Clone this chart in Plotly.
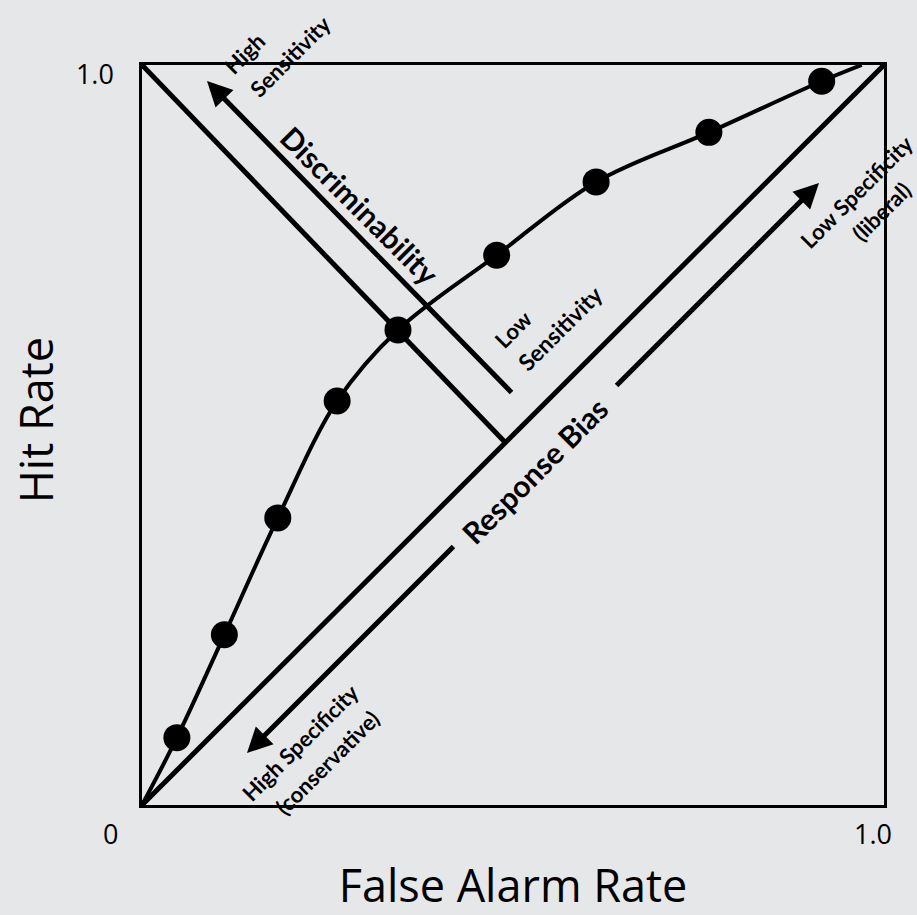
import plotly.graph_objects as go

# ROC points (false alarm rate, hit rate)
fa_rate = [0.047, 0.111, 0.183, 0.263, 0.345, 0.478, 0.612, 0.764, 0.916]
hit_rate = [0.091, 0.230, 0.388, 0.546, 0.642, 0.743, 0.842, 0.909, 0.978]
# curve end points
curve_start = [0.0, 0.0]
curve_end = [0.97, 1.0]

# reference lines
chance_x = [0.0, 1.0]
chance_y = [0.0, 1.0]
anti_x = [0.0, 0.489]
anti_y = [1.0, 0.4905]

# arrows: (tip_x, tip_y, tail_x, tail_y)
disc_arrow = [0.0876, 0.9784, 0.500, 0.5554]
bias_low_arrow = [0.1415, 0.0703, 0.4218, 0.3514]
bias_high_arrow = [0.9124, 0.8405, 0.6375, 0.5649]

BG = "#e6e7e9"
LABEL_FONT = "Lato"
AXIS_FONT = "Open Sans"

fig = go.Figure()

fig.add_trace(go.Scatter(x=chance_x, y=chance_y, mode="lines",
                         line=dict(color="black", width=5), cliponaxis=False,
                         hoverinfo="skip"))
fig.add_trace(go.Scatter(x=anti_x, y=anti_y, mode="lines",
                         line=dict(color="black", width=5), cliponaxis=False,
                         hoverinfo="skip"))
fig.add_trace(go.Scatter(x=[curve_start[0]] + fa_rate + [curve_end[0]],
                         y=[curve_start[1]] + hit_rate + [curve_end[1]],
                         mode="lines", line=dict(color="black", width=4, shape="spline", smoothing=1.0),
                         cliponaxis=False, hoverinfo="skip"))
fig.add_trace(go.Scatter(x=fa_rate, y=hit_rate, mode="markers",
                         marker=dict(color="black", size=27), cliponaxis=False))

def arrow(a):
    fig.add_annotation(x=a[0], y=a[1], ax=a[2], ay=a[3], xref="x", yref="y",
                       axref="x", ayref="y", text="", showarrow=True,
                       arrowhead=2, arrowwidth=5, arrowsize=1.0, arrowcolor="black",
                       standoff=0, startstandoff=0)

arrow(disc_arrow)
arrow(bias_low_arrow)
arrow(bias_high_arrow)

# text labels: (text, x, y, size, angle)
labels = [
    ("High", 0.1375, 1.016, 22, -45),
    ("Sensitivity", 0.1995, 1.011, 22, -45),
    ("Discriminability", 0.2938, 0.811, 30, 45),
    ("Low", 0.500, 0.642, 22, -45),
    ("Sensitivity", 0.5633, 0.6446, 23, -45),
    ("Response Bias", 0.5296, 0.4527, 30, -45),
    ("Low Specificity", 0.9636, 0.8284, 22, -45),
    ("(liberal)", 0.996, 0.8027, 22, -45),
    ("High Specificity", 0.2129, 0.0851, 22, -45),
    ("(conservative)", 0.2493, 0.0581, 22, -45),
]
for t, x, y, s, ang in labels:
    fig.add_annotation(x=x, y=y, xref="paper", yref="paper", text="<b>" + t + "</b>",
                       showarrow=False, textangle=ang, xanchor="center", yanchor="middle",
                       font=dict(family=LABEL_FONT, size=s, color="black"))

fig.add_annotation(x=0, y=0, xref="paper", yref="paper", text="0", showarrow=False,
                   xanchor="center", yanchor="middle",
                   xshift=-32, yshift=-28,
                   font=dict(family=AXIS_FONT, size=27, color="black"))

# y axis title placed as annotation so it sits slightly above centre
fig.add_annotation(x=-0.144, y=0.52, xref="paper", yref="paper", text="Hit Rate",
                   showarrow=False, textangle=-90, xanchor="center", yanchor="middle",
                   font=dict(family=AXIS_FONT, size=45, color="black"))

fig.update_layout(
    width=917, height=915,
    paper_bgcolor=BG, plot_bgcolor=BG,
    margin=dict(l=142, r=33, t=65, b=110),
    showlegend=False,
    xaxis=dict(range=[0, 1], tickvals=[1], ticktext=["1.0"], showgrid=False,
               zeroline=False, showline=True, linecolor="black", linewidth=2.5,
               mirror=True, ticks="", ticklabelshift=-11, ticklabelstandoff=4,
               automargin=False,
               tickfont=dict(family=AXIS_FONT, size=27, color="black"),
               title=dict(text="False Alarm Rate", standoff=26,
                          font=dict(family=AXIS_FONT, size=45, color="black"))),
    yaxis=dict(range=[0, 1], tickvals=[1], ticktext=["1.0"], showgrid=False,
               zeroline=False, showline=True, linecolor="black", linewidth=2.5,
               mirror=True, ticks="", ticklabelshift=10, ticklabelstandoff=20,
               automargin=False,
               tickfont=dict(family=AXIS_FONT, size=27, color="black")),
)

fig.write_html("out.html", config={"displayModeBar": False},
               post_script="document.body.style.margin='0';")
